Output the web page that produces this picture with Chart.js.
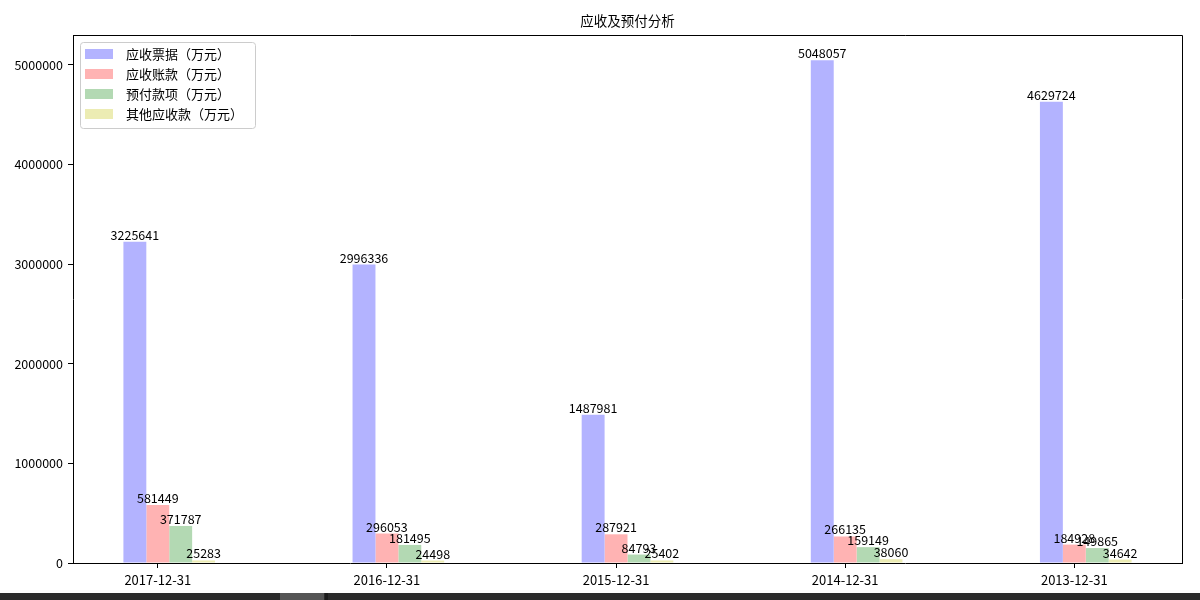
<!DOCTYPE html>
<html><head><meta charset="utf-8">
<script src="https://cdn.jsdelivr.net/npm/chart.js@4"></script>
<style>
html,body{margin:0;padding:0;background:#fff;overflow:hidden}
#wrap{position:relative;width:1200px;height:593px}
#strip{position:absolute;left:0;top:593px;width:1200px;height:7px;background:#2b2b2b}
#seg{position:absolute;left:280px;top:0;width:44px;height:7px;background:#555}
#sep{position:absolute;left:325px;top:0;width:3px;height:7px;background:#1c1c1c}
</style></head><body>
<div id="wrap"><canvas id="c" width="1200" height="593" style="width:1200px;height:593px"></canvas></div>
<div id="strip"><div id="seg"></div><div id="sep"></div></div>
<script>
const title = '应收及预付分析';
const categories = ['2017-12-31','2016-12-31','2015-12-31','2014-12-31','2013-12-31'];
const seriesNames = ['应收票据（万元）','应收账款（万元）','预付款项（万元）','其他应收款（万元）'];
const notesReceivable = [3225641, 2996336, 1487981, 5048057, 4629724];
const accountsReceivable = [581449, 296053, 287921, 266135, 184928];
const prepayments = [371787, 181495, 84793, 159149, 149865];
const otherReceivables = [25283, 24498, 25402, 38060, 34642];
const yTicks = [0, 1000000, 2000000, 3000000, 4000000, 5000000];

const colors = ['rgb(179,179,255)','rgb(255,179,179)','rgb(179,217,179)','rgb(236,236,179)'];
const allSeries = [notesReceivable, accountsReceivable, prepayments, otherReceivables];
const CJK = '"Noto Sans CJK SC", "DejaVu Sans", sans-serif';

const datasets = allSeries.map((vals, k) => ({
  label: seriesNames[k],
  data: vals.map((v, i) => ({x: i + 0.05, y: v})),
  backgroundColor: colors[k],
  borderWidth: 0,
  categoryPercentage: 0.4,
  barPercentage: 1.0
}));

const yMax = Math.max(...notesReceivable) * 1.05;

const decor = {
  id: 'decor',
  afterDatasetsDraw(chart) {
    const ctx = chart.ctx;
    ctx.save();
    ctx.fillStyle = '#000';
    ctx.font = '12.5px ' + CJK;
    ctx.textAlign = 'center';
    ctx.textBaseline = 'alphabetic';
    chart.data.datasets.forEach((ds, k) => {
      const meta = chart.getDatasetMeta(k);
      meta.data.forEach((bar, i) => {
        ctx.fillText(String(allSeries[k][i]), bar.x, bar.y - 2);
      });
    });
    ctx.restore();
  },
  afterDraw(chart) {
    const ctx = chart.ctx;
    const a = chart.chartArea;
    ctx.save();
    ctx.strokeStyle = '#000';
    ctx.lineWidth = 1;
    ctx.beginPath();
    ctx.moveTo(Math.round(a.left) + 0.5, Math.round(a.top) + 0.5);
    ctx.lineTo(Math.round(a.right) + 0.5, Math.round(a.top) + 0.5);
    ctx.lineTo(Math.round(a.right) + 0.5, Math.round(a.bottom) + 0.5);
    ctx.stroke();
    ctx.fillStyle = '#000';
    ctx.font = '13.5px ' + CJK;
    ctx.textAlign = 'center';
    ctx.textBaseline = 'middle';
    ctx.fillText(title, (a.left + a.right) / 2, 21);
    const lx = 80.5, ly = 42.5, lw = 175, lh = 86, r = 3;
    ctx.beginPath();
    ctx.moveTo(lx + r, ly);
    ctx.lineTo(lx + lw - r, ly);
    ctx.quadraticCurveTo(lx + lw, ly, lx + lw, ly + r);
    ctx.lineTo(lx + lw, ly + lh - r);
    ctx.quadraticCurveTo(lx + lw, ly + lh, lx + lw - r, ly + lh);
    ctx.lineTo(lx + r, ly + lh);
    ctx.quadraticCurveTo(lx, ly + lh, lx, ly + lh - r);
    ctx.lineTo(lx, ly + r);
    ctx.quadraticCurveTo(lx, ly, lx + r, ly);
    ctx.closePath();
    ctx.fillStyle = 'rgba(255,255,255,0.8)';
    ctx.fill();
    ctx.strokeStyle = '#cccccc';
    ctx.stroke();
    ctx.font = '13px ' + CJK;
    ctx.textAlign = 'left';
    ctx.textBaseline = 'middle';
    chart.data.datasets.forEach((ds, k) => {
      const cy = 54 + k * 20;
      ctx.fillStyle = ds.backgroundColor;
      ctx.fillRect(85, cy - 5, 28, 10);
      ctx.fillStyle = '#000';
      ctx.fillText(ds.label, 126, cy + 0.5);
    });
    ctx.restore();
  }
};

new Chart(document.getElementById('c'), {
  type: 'bar',
  data: { datasets },
  options: {
    responsive: false,
    animation: false,
    layout: { padding: { left: 0, top: 35, right: 18, bottom: 0 } },
    plugins: { legend: { display: false }, title: { display: false }, tooltip: { enabled: false } },
    scales: {
      x: {
        type: 'linear',
        min: -0.37,
        max: 4.47,
        offset: false,
        grid: { offset: false, drawOnChartArea: false, color: '#000', tickColor: '#000', tickLength: 5 },
        border: { color: '#000', width: 1 },
        afterBuildTicks: s => { s.ticks = categories.map((c, i) => ({ value: i })); },
        afterFit: s => { s.height = 30; },
        ticks: {
          autoSkip: false,
          maxRotation: 0,
          padding: 4,
          color: '#000',
          font: { family: CJK, size: 13 },
          callback: (v) => categories[Math.round(v)] ?? ''
        }
      },
      y: {
        min: 0,
        max: yMax,
        grid: { drawOnChartArea: false, color: '#000', tickColor: '#000', tickLength: 5 },
        border: { color: '#000', width: 1 },
        afterBuildTicks: s => { s.ticks = yTicks.map(v => ({ value: v })); },
        afterFit: s => { s.width = 73; },
        ticks: {
          padding: 5,
          color: '#000',
          font: { family: CJK, size: 12.5 },
          callback: v => String(v)
        }
      }
    }
  },
  plugins: [decor]
});
</script>
</body></html>
